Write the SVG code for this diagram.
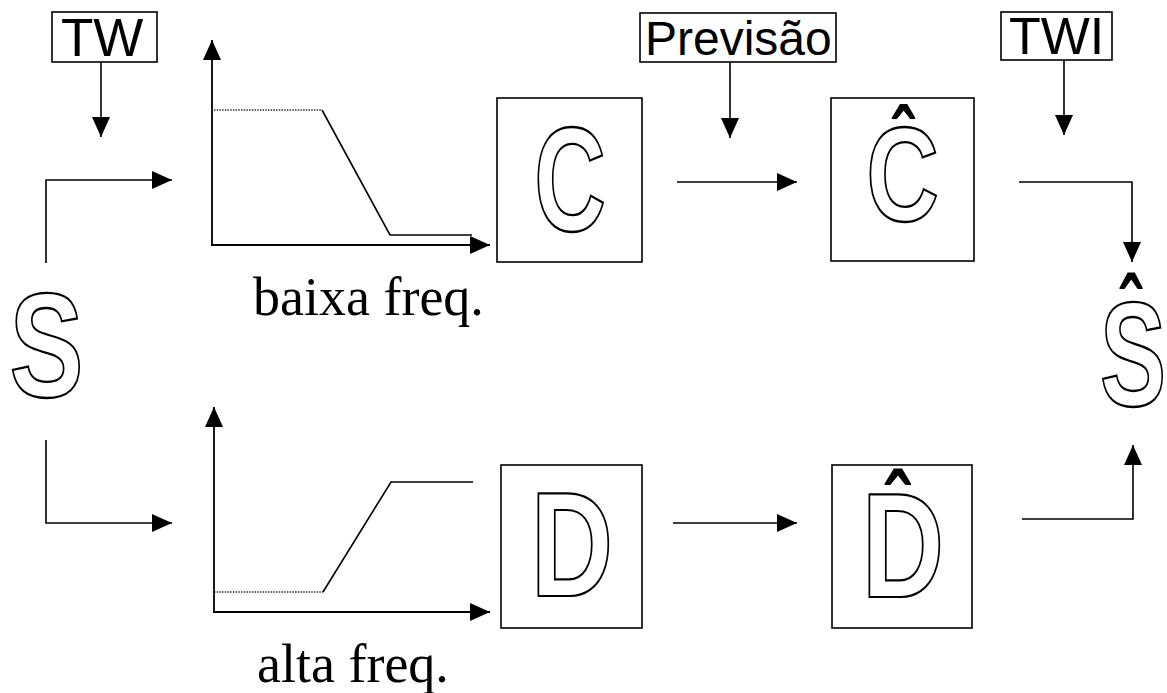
<svg xmlns="http://www.w3.org/2000/svg" width="1167" height="693" viewBox="0 0 1167 693">
  <style>
    .bg { fill: #ffffff; }
    .box { fill: none; stroke: #000; stroke-width: 1.6; }
    .wire { fill: none; stroke: #000; stroke-width: 1.6; }
    .axis { fill: none; stroke: #000; stroke-width: 1.8; }
    .curve { fill: none; stroke: #000; stroke-width: 1.6; }
    .dots { fill: none; stroke: #333; stroke-width: 1.6; stroke-dasharray: 1.5 1.2; }
    .tag { font-family: "Liberation Sans", Arial, sans-serif; fill: #000; }
    .big { font-family: "Liberation Sans", Arial, sans-serif; font-size: 148px; font-weight: bold; fill: #fff; stroke: #000; stroke-width: 2; vector-effect: non-scaling-stroke; text-anchor: middle; }
    .hat { font-weight: bold; font-size: 96px; fill: #000; stroke: none; }
    .cap { font-family: "Liberation Serif", "Times New Roman", serif; font-size: 54px; fill: #000; }
  </style>
  <defs>
    <marker id="arrow" markerUnits="userSpaceOnUse" markerWidth="20" markerHeight="18" refX="20" refY="9" orient="auto">
      <path d="M0,0 L20,9 L0,18 z" fill="#000"/>
    </marker>
  </defs>

  <rect class="bg" x="0" y="0" width="1167" height="693"/>

  <!-- labels on top -->
  <g id="tw">
    <rect class="box" x="52" y="12" width="105" height="50"/>
    <text class="tag" x="61" y="56" font-size="53">TW</text>
  </g>
  <g id="previsao">
    <rect class="box" x="640" y="13" width="196" height="49"/>
    <text class="tag" x="645" y="55" font-size="48">Previsão</text>
  </g>
  <g id="twi">
    <rect class="box" x="1001" y="12" width="111" height="48"/>
    <text class="tag" x="1009" y="54" font-size="52">TWI</text>
  </g>

  <!-- input signal -->
  <g id="s">
    <text class="big" transform="translate(46.5,397) scale(0.75,1)">S</text>
  </g>

  <!-- low-pass filter response -->
  <g id="lowpass">
    <line class="axis" x1="212" y1="246" x2="212" y2="40" marker-end="url(#arrow)"/>
    <line class="axis" x1="211" y1="245" x2="490" y2="245" marker-end="url(#arrow)"/>
    <line class="dots" x1="214" y1="110" x2="322" y2="110"/>
    <polyline class="curve" points="322,110 390,235 472,235"/>
    <text class="cap" x="253" y="315">baixa freq.</text>
  </g>

  <!-- high-pass filter response -->
  <g id="highpass">
    <line class="axis" x1="214" y1="613" x2="214" y2="407" marker-end="url(#arrow)"/>
    <line class="axis" x1="213" y1="612" x2="490" y2="612" marker-end="url(#arrow)"/>
    <line class="dots" x1="214" y1="592" x2="323" y2="592"/>
    <polyline class="curve" points="323,592 391,482 473,482"/>
    <text class="cap" x="257" y="682">alta freq.</text>
  </g>

  <!-- coefficient blocks -->
  <g id="c">
    <rect class="box" x="497" y="98" width="145" height="164"/>
    <text class="big" transform="translate(570,231) scale(0.67,1)">C</text>
  </g>
  <g id="d">
    <rect class="box" x="501" y="465" width="141" height="163"/>
    <text class="big" transform="translate(572,596) scale(0.77,1)">D</text>
  </g>
  <g id="c-hat">
    <rect class="box" x="831" y="98" width="143" height="163"/>
    <text class="big" transform="translate(902.5,221) scale(0.68,0.9)">C<tspan class="hat" x="0" y="-58">ˆ</tspan></text>
  </g>
  <g id="d-hat">
    <rect class="box" x="832" y="465" width="140" height="163"/>
    <text class="big" transform="translate(903,597) scale(0.77,1)">D<tspan class="hat" x="-8" y="-56">ˆ</tspan></text>
  </g>

  <!-- reconstructed signal -->
  <g id="s-hat">
    <text class="big" transform="translate(1133,406) scale(0.67,1)">S<tspan class="hat" x="-4" y="-61">ˆ</tspan></text>
  </g>

  <!-- connectors -->
  <g id="connectors">
    <line class="wire" x1="101" y1="62" x2="101" y2="137" marker-end="url(#arrow)"/>
    <line class="wire" x1="730" y1="62" x2="730" y2="138" marker-end="url(#arrow)"/>
    <line class="wire" x1="1064" y1="60" x2="1064" y2="135" marker-end="url(#arrow)"/>
    <polyline class="wire" points="46,263 46,180 172,180" marker-end="url(#arrow)"/>
    <polyline class="wire" points="46,440 46,523 172,523" marker-end="url(#arrow)"/>
    <line class="wire" x1="677" y1="182" x2="797" y2="182" marker-end="url(#arrow)"/>
    <line class="wire" x1="673" y1="523" x2="797" y2="523" marker-end="url(#arrow)"/>
    <polyline class="wire" points="1019,182 1132,182 1132,262" marker-end="url(#arrow)"/>
    <polyline class="wire" points="1022,519 1133,519 1133,445" marker-end="url(#arrow)"/>
  </g>
</svg>
